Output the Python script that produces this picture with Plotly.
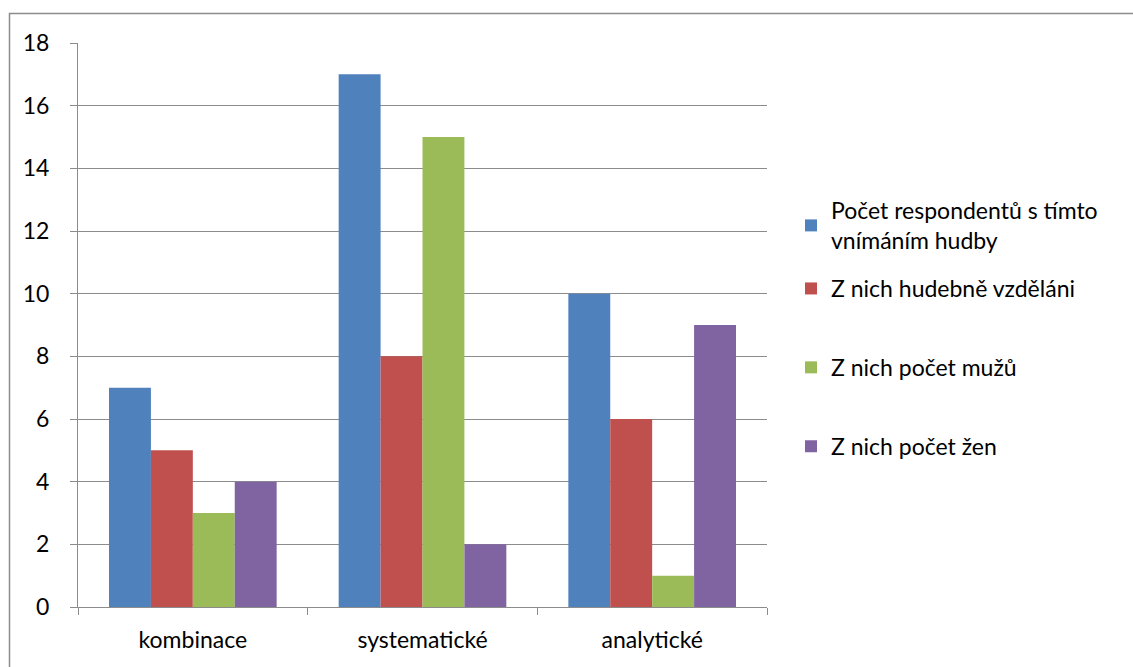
import plotly.graph_objects as go

# Survey categories and counts per series
categories = ["kombinace", "systematické", "analytické"]
series_names = [
    "Počet respondentů s tímto<br>vnímáním hudby",
    "Z nich hudebně vzděláni",
    "Z nich počet mužů",
    "Z nich počet žen",
]
respondents = [7, 17, 10]
music_educated = [5, 8, 6]
men = [3, 15, 1]
women = [4, 2, 9]
y_ticks = [0, 2, 4, 6, 8, 10, 12, 14, 16, 18]

colors = ["#4F81BD", "#C0504D", "#9BBB59", "#8064A2"]
values = [respondents, music_educated, men, women]

FONT = "Lato, 'Open Sans', sans-serif"
GRID = "#8C8C8C"
FS = 23

fig = go.Figure()
for i, (name, vals) in enumerate(zip(series_names, values)):
    fig.add_trace(go.Bar(
        x=categories, y=vals, name=name,
        marker=dict(color=colors[i], line=dict(width=0)),
        legendgroup=f"g{i}",
        legend="legend" if i == 0 else "legend2",
    ))

L, R, T, B = 78, 366, 43, 60
W, H = 1133, 667
pw, ph = W - L - R, H - T - B

def px_x(v):
    return (v - L) / pw

def px_y(v):
    return (H - B - v) / ph

legend_common = dict(
    x=px_x(791), xanchor="left", yanchor="top",
    font=dict(size=FS), bgcolor="rgba(0,0,0,0)",
    itemwidth=30,
)

fig.update_layout(
    width=W, height=H,
    margin=dict(l=L, r=R, t=T, b=B),
    paper_bgcolor="white", plot_bgcolor="white",
    barmode="group", bargap=0.27, bargroupgap=0,
    font=dict(family=FONT, size=FS, color="black"),
    legend=dict(y=px_y(189), **legend_common),
    legend2=dict(y=px_y(267), tracegroupgap=46, **legend_common),
    showlegend=True,
    xaxis=dict(
        showline=True, linecolor=GRID, linewidth=1,
        ticks="outside", ticklen=7, tickcolor=GRID, tickson="boundaries",
        showgrid=False, ticklabelstandoff=12,
    ),
    yaxis=dict(
        range=[0, 18], tickvals=y_ticks,
        showline=True, linecolor=GRID, linewidth=1,
        ticks="outside", ticklen=7, tickcolor=GRID,
        showgrid=True, gridcolor=GRID, gridwidth=1,
        zeroline=False, ticklabelstandoff=16,
    ),
    shapes=[dict(
        type="rect", xref="paper", yref="paper",
        x0=px_x(9.5), x1=px_x(1145), y0=px_y(13.5), y1=px_y(680),
        line=dict(color="#8C8C8C", width=1.5), fillcolor="rgba(0,0,0,0)",
        layer="below",
    )],
)

fig.write_html("out.html")
